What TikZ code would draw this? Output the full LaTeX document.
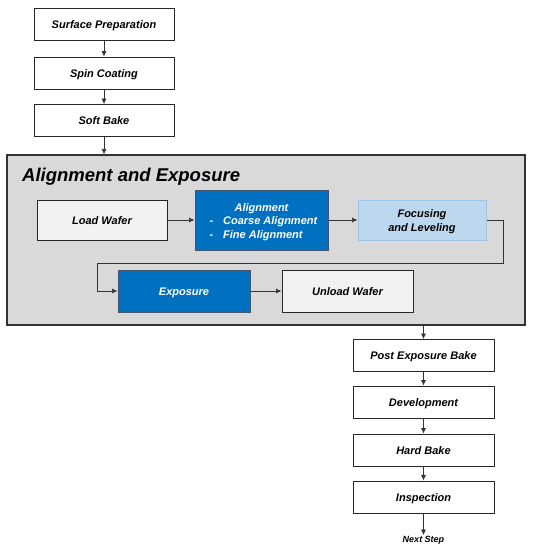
\documentclass[tikz,border=0pt]{standalone}
\usepackage{fontspec}
\setmainfont{Liberation Sans}
\usetikzlibrary{arrows.meta,calc}
\definecolor{bgray}{HTML}{D9D9D9}
\definecolor{lgray}{HTML}{F2F2F2}
\definecolor{dblue}{HTML}{0070C0}
\definecolor{lblue}{HTML}{BDD7EE}
\definecolor{lbord}{HTML}{9DC3E6}
\definecolor{dbord}{HTML}{44546A}
\begin{document}
\begin{tikzpicture}[x=1pt,y=-1pt,
  txt/.style={font=\fontsize{11}{13.5}\selectfont\bfseries\itshape},
  one/.style={text height=8pt,text depth=0pt},
  wbox/.style={draw=black!85,line width=0.9pt,fill=white,minimum width=140pt,minimum height=32pt,inner sep=0pt,txt,one},
  gbox/.style={draw=black!85,line width=1pt,fill=lgray,minimum width=130pt,minimum height=40pt,inner sep=0pt,txt,one},
  bbox/.style={draw=dbord,line width=1pt,fill=dblue,text=white,minimum width=133pt,inner sep=0pt,txt},
  lbbox/.style={draw=lbord,line width=1pt,fill=lblue,minimum width=128pt,minimum height=40pt,inner sep=0pt,txt,align=center},
  arr/.style={draw=black!80,line width=0.7pt,-{Latex[length=5.5pt,width=5pt]}}]
\useasboundingbox (0,0) rectangle (534,550);
% top chain
\node[wbox] (surf) at (104,24) {Surface Preparation};
\node[wbox] (spin) at (104,73) {Spin Coating};
\node[wbox] (soft) at (104,120.5) {Soft Bake};
% big group
\node[draw=black!80,line width=1.2pt,fill=bgray,minimum width=518pt,minimum height=170pt,inner sep=0pt] (big) at (266,240) {};
\node[anchor=west,inner sep=0pt,font=\fontsize{18.5}{22}\selectfont\bfseries\itshape] (title) at (22,176.5) {Alignment and Exposure};
\node[gbox] (load) at (102,220) {Load Wafer};
\node[bbox,minimum height=60pt,align=center,inner ysep=1pt] (align) at (261.5,220) {\rule{0pt}{12pt}Alignment\\\makebox[104pt][l]{-\hspace{10pt}Coarse Alignment}\\\makebox[104pt][l]{-\hspace{10pt}Fine Alignment}};
\node[lbbox] (focus) at (422,220) {\rule{0pt}{11pt}Focusing\\and Leveling};
\node[bbox,one,minimum height=42pt,minimum width=132pt] (expo) at (184,291) {Exposure};
\node[gbox,minimum width=131pt,minimum height=42pt] (unload) at (347.5,291) {Unload Wafer};
% bottom chain
\node[wbox,minimum width=141pt] (peb) at (423.5,355.5) {Post Exposure Bake};
\node[wbox,minimum width=141pt] (dev) at (423.5,402) {Development};
\node[wbox,minimum width=141pt] (hard) at (423.5,450) {Hard Bake};
\node[wbox,minimum width=141pt] (insp) at (423.5,497) {Inspection};
\node[font=\fontsize{9}{11}\selectfont\bfseries\itshape,inner sep=1pt,text height=6.5pt,text depth=0pt] (next) at (423.5,539.5) {Next Step};
% connectors
\draw[arr] (surf) -- (spin);
\draw[arr] (spin) -- (soft);
\draw[arr] (soft) -- (soft.south |- big.north);
\draw[arr] (load) -- (align);
\draw[arr] (align) -- (focus);
\coordinate (c1) at ($(focus.east)+(17,0)$);
\draw[arr] (focus.east) -- (c1) |- (97,263) |- (expo.west);
\draw[arr] (expo) -- (unload);
\draw[arr] (peb.north |- big.south) -- (peb.north);
\draw[arr] (peb) -- (dev);
\draw[arr] (dev) -- (hard);
\draw[arr] (hard) -- (insp);
\draw[arr] (insp) -- (next);
\end{tikzpicture}
\end{document}
